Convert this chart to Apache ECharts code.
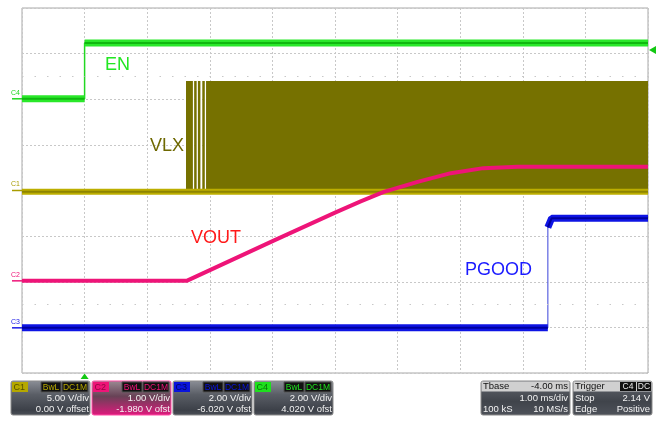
<!DOCTYPE html>
<html>
<head>
<meta charset="utf-8">
<script src="https://cdn.jsdelivr.net/npm/echarts@6/dist/echarts.min.js"></script>
<style>
  html, body { margin: 0; padding: 0; background: #fff; }
  #chart { width: 656px; height: 421px; }
</style>
</head>
<body>
<div id="chart"></div>
<script>
// channel settings, as shown in the scope's readout
var channels = ['C1', 'C2', 'C3', 'C4'];
var chColors = ['#b5a800', '#ee1478', '#0a14dc', '#1ee01e'];
var voltsPerDiv = [5, 1, 2, 2];
var offsetVolts = [0, -1.98, -6.02, 4.02];
var scaleText = ['5.00 V/div', '1.00 V/div', '2.00 V/div', '2.00 V/div'];
var offsetText = ['0.00 V offset', '-1.980 V ofst', '-6.020 V ofst', '4.020 V ofst'];

// time axis in ms, trigger at 0
var timeMin = -1, timeMax = 9;
var triggerLevel = 2.14; // C4

// EN on C4
var enTime = [-1, 0, 0, 9];
var enVolts = [0, 0, 2.45, 2.45];

// VLX on C1: idle level plus switching bursts (start/end ms)
var vlxBaseTime = [-1, 9];
var vlxBaseVolts = [-0.15, -0.15];
var vlxBurstStart = [1.62, 1.75, 1.81, 1.88, 1.94];
var vlxBurstEnd = [1.73, 1.79, 1.85, 1.92, 9];
var vlxLow = 0.15, vlxHigh = 12.0;

// VOUT on C2
var voutTime = [-1, 1.63, 2.01, 3.02, 4.01, 4.41, 4.78, 5.32, 5.85, 6.37, 6.92, 9];
var voutVolts = [0, 0, 0.24, 0.88, 1.50, 1.74, 1.95, 2.17, 2.36, 2.47, 2.50, 2.50];

// PGOOD on C3
var pgTime = [-1, 7.40, 7.40, 7.46, 9];
var pgVolts = [0, 0, 4.4, 4.8, 4.8];

var FONT = 'Liberation Sans, Arial, sans-serif';

function toDiv(ch, v) { return (v + offsetVolts[ch]) / voltsPerDiv[ch]; }
function trace(ch, times, volts) {
  return times.map(function (t, i) { return [t, toDiv(ch, volts[i])]; });
}
// same trace, but broken at vertical edges (so only the flat parts get the wide noise band)
function flatParts(pts) {
  var out = [];
  pts.forEach(function (p, i) {
    if (i > 0 && p[0] === pts[i - 1][0]) out.push([p[0], '-']);
    out.push(p);
  });
  return out;
}
function lineSeries(data, color, width) {
  return {
    type: 'line', data: data, symbol: 'none', silent: true, animation: false,
    lineStyle: { color: color, width: width, cap: 'butt' }
  };
}

var enPts = trace(3, enTime, enVolts);
var vlxPts = trace(0, vlxBaseTime, vlxBaseVolts);
var voutPts = trace(1, voutTime, voutVolts);
var pgPts = trace(2, pgTime, pgVolts);
var bursts = vlxBurstStart.map(function (s, i) {
  return [s, vlxBurstEnd[i], toDiv(0, vlxLow), toDiv(0, vlxHigh)];
});

var chart = echarts.init(document.getElementById('chart'));

var enThin = lineSeries(enPts, '#22d822', 1.5);
// faint dotted rows of the scope graticule
enThin.markLine = {
  silent: true, symbol: 'none', label: { show: false },
  lineStyle: { color: '#c8c8c8', type: [1.5, 11], width: 1 },
  data: [{ yAxis: 2.5 }, { yAxis: -2.5 }]
};

var option = {
  backgroundColor: '#ffffff',
  animation: false,
  grid: { left: 22, top: 8, right: 8, bottom: 48, show: true, borderColor: '#a8a8a8', borderWidth: 1, containLabel: false },
  xAxis: {
    type: 'value', min: timeMin, max: timeMax, interval: 1,
    axisLine: { show: false }, axisTick: { show: false }, axisLabel: { show: false },
    splitLine: { show: true, lineStyle: { color: '#c8c8c8', type: [2, 2] } }
  },
  yAxis: {
    type: 'value', min: -4, max: 4, interval: 1,
    axisLine: { show: false }, axisTick: { show: false }, axisLabel: { show: false },
    splitLine: { show: true, lineStyle: { color: '#c8c8c8', type: [2, 2] } }
  },
  series: [
    enThin,
    lineSeries(flatParts(enPts), '#2ae82a', 7),
    lineSeries(flatParts(enPts), '#10b810', 2),
    lineSeries(vlxPts, '#bcae00', 6),
    lineSeries(vlxPts, '#8e8400', 2),
    {
      type: 'custom', silent: true, animation: false, clip: true,
      data: bursts,
      encode: { x: [0, 1], y: [2, 3] },
      renderItem: function (params, api) {
        var p0 = api.coord([api.value(0), api.value(3)]);
        var p1 = api.coord([api.value(1), api.value(2)]);
        return {
          type: 'rect',
          shape: { x: p0[0], y: p0[1], width: p1[0] - p0[0], height: p1[1] - p0[1] },
          style: { fill: '#767100' }
        };
      }
    },
    lineSeries(voutPts, '#ee1478', 4),
    lineSeries(pgPts, '#5a62e0', 1.2),
    lineSeries(flatParts(pgPts), '#0e14e4', 7),
    lineSeries(flatParts(pgPts), '#00009e', 2)
  ]
};
chart.setOption(option);

// ---------- overlay: labels, channel markers, readout panel ----------
function txt(x, y, s, color, size, align, extra) {
  var st = { text: s, fill: color, font: size + 'px ' + FONT, align: align || 'left', verticalAlign: 'middle' };
  if (extra) for (var k in extra) st[k] = extra[k];
  return { type: 'text', x: x, y: y, silent: true, style: st };
}
function box(x, y, w, h, fill, stroke, r) {
  return {
    type: 'rect', silent: true,
    shape: { x: x, y: y, width: w, height: h, r: r || 0 },
    style: { fill: fill, stroke: stroke || null, lineWidth: stroke ? 1 : 0 }
  };
}
function grad(stops) {
  return new echarts.graphic.LinearGradient(0, 0, 0, 1, stops.map(function (s) {
    return { offset: s[0], color: s[1] };
  }));
}

var g = [];

// trace names
g.push(txt(105, 65, 'EN', '#22e622', 18));
g.push(txt(150, 146, 'VLX', '#6e6800', 18));
g.push(txt(191, 238.5, 'VOUT', '#ff1a1a', 18));
g.push(txt(465, 270.5, 'PGOOD', '#1a1aff', 18));

// channel ground markers on the left edge
var markColors = ['#a89c00', '#ee1478', '#1a1ae6', '#1ed81e'];
channels.forEach(function (c, i) {
  var p = chart.convertToPixel({ gridIndex: 0 }, [timeMin, toDiv(i, 0)]);
  g.push(txt(11, p[1] - 6, c, markColors[i], 7));
  g.push({ type: 'line', silent: true, shape: { x1: 12, y1: p[1], x2: p[0], y2: p[1] },
           style: { stroke: markColors[i], lineWidth: 1.5 } });
});

// trigger markers
var tp = chart.convertToPixel({ gridIndex: 0 }, [0, -4]);
g.push({ type: 'polygon', silent: true, shape: { points: [[tp[0], tp[1] + 0.5], [tp[0] - 4, tp[1] + 6], [tp[0] + 4, tp[1] + 6]] },
         style: { fill: '#12c812' } });
var lp = chart.convertToPixel({ gridIndex: 0 }, [timeMax, toDiv(3, triggerLevel)]);
g.push({ type: 'polygon', silent: true, shape: { points: [[lp[0] + 1, lp[1]], [lp[0] + 8, lp[1] - 4], [lp[0] + 8, lp[1] + 4]] },
         style: { fill: '#12c812' } });

// channel readout boxes
var chipText = ['rgba(0,0,0,0.55)', 'rgba(120,0,50,0.8)', 'rgba(0,0,60,0.8)', 'rgba(0,60,0,0.7)'];
channels.forEach(function (c, i) {
  var x = 11 + i * 81, y = 381;
  var bg = i === 1
    ? grad([[0, '#9c8c94'], [0.45, '#684256'], [1, '#e2187e']])
    : grad([[0, '#8c9098'], [0.4, '#5a5e66'], [0.85, '#3c4048'], [1, '#4c5058']]);
  g.push(box(x, y, 79, 34, bg, i === 1 ? '#ff4ca4' : '#8a8a8a', 2));
  g.push(box(x + 1, y + 1, 16, 10, chColors[i]));
  g.push(txt(x + 2.5, y + 6.5, c, chipText[i], 9));
  g.push(box(x + 30, y + 1, 20, 10, '#111111', '#555555'));
  g.push(txt(x + 40, y + 6.5, 'BwL', chColors[i], 8.5, 'center'));
  g.push(box(x + 51, y + 1, 26, 10, '#111111', '#555555'));
  g.push(txt(x + 64, y + 6.5, 'DC1M', chColors[i], 8.5, 'center'));
  g.push(txt(x + 78, y + 17, scaleText[i], '#f2f2f2', 9.5, 'right'));
  g.push(txt(x + 78, y + 28.5, offsetText[i], '#f2f2f2', 9.5, 'right'));
});

// timebase box
var bodyGrad = grad([[0, '#62666e'], [0.6, '#40444b'], [1, '#4e525a']]);
g.push(box(481, 381, 89, 34, bodyGrad, '#8a8a8a', 2));
g.push(box(481.5, 381.5, 88, 10, '#d0d0d0'));
g.push(txt(483, 386.5, 'Tbase', '#111', 9.5));
g.push(txt(568, 386.5, '-4.00 ms', '#111', 9.5, 'right'));
g.push(txt(568, 398, '1.00 ms/div', '#f2f2f2', 9.5, 'right'));
g.push(txt(483, 409.5, '100 kS', '#f2f2f2', 9.5));
g.push(txt(568, 409.5, '10 MS/s', '#f2f2f2', 9.5, 'right'));

// trigger box
g.push(box(573, 381, 79, 34, bodyGrad, '#8a8a8a', 2));
g.push(box(573.5, 381.5, 78, 10, '#d0d0d0'));
g.push(txt(575, 386.5, 'Trigger', '#111', 9.5));
g.push(box(620, 382, 16, 9, '#111'));
g.push(txt(628, 386.5, 'C4', '#e8e8e8', 8.5, 'center'));
g.push(box(637, 382, 14, 9, '#111'));
g.push(txt(644, 386.5, 'DC', '#e8e8e8', 8.5, 'center'));
g.push(txt(575, 398, 'Stop', '#f2f2f2', 9.5));
g.push(txt(650, 398, '2.14 V', '#f2f2f2', 9.5, 'right'));
g.push(txt(575, 409.5, 'Edge', '#f2f2f2', 9.5));
g.push(txt(650, 409.5, 'Positive', '#f2f2f2', 9.5, 'right'));

chart.setOption({ graphic: g });
</script>
</body>
</html>
